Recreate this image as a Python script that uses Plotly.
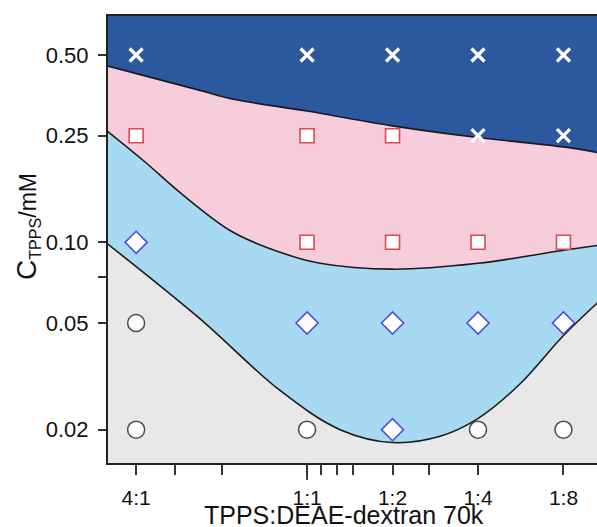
import plotly.graph_objects as go
import numpy as np

# ---------------- data ----------------
# DEAE-dextran : TPPS ratio (x) and their labels (TPPS:DEAE)
ratios = [0.25, 1, 2, 4, 8]
ratio_labels = ["4:1", "1:1", "1:2", "1:4", "1:8"]
# minor (unlabelled) x ticks
x_minor_ticks = [0.343, 0.5, 1.12, 1.275, 1.45, 2.69]

# TPPS concentration levels (mM)
conc_levels = [0.50, 0.25, 0.10, 0.05, 0.02]
conc_labels = ["0.50", "0.25", "0.10", "0.05", "0.02"]
y_minor_ticks = [0.074]

# observed phase at each (conc, ratio): X = aggregate A, S = aggregate B, D = aggregate C, C = monomer
phase_050 = ["X", "X", "X", "X", "X"]
phase_025 = ["S", "S", "S", "X", "X"]
phase_010 = ["D", "S", "S", "S", "S"]
phase_005 = ["C", "D", "D", "D", "D"]
phase_002 = ["C", "C", "D", "C", "C"]
phase_rows = [phase_050, phase_025, phase_010, phase_005, phase_002]

# phase boundaries (ratio, conc)
top_r = [0.197, 0.42, 0.55, 1.0, 2.0, 4.0, 8.0, 10.6]
top_c = [0.456, 0.369, 0.342, 0.309, 0.272, 0.246, 0.227, 0.216]

mid_r = [0.197, 0.265, 0.366, 0.549, 0.823, 1.11, 2.0, 4.0, 8.0, 10.6]
mid_c = [0.261, 0.202, 0.150, 0.109, 0.091, 0.0835, 0.0794, 0.0835, 0.0934, 0.0975]

bot_r = [0.197, 0.42, 0.803, 1.307, 2.0, 2.94, 3.97, 5.62, 7.97, 10.6]
bot_c = [0.0992, 0.0518, 0.0280, 0.0200, 0.0179, 0.0189, 0.0219, 0.0296, 0.0447, 0.0598]

# ---------------- style ----------------
C_DARK = "#2c58a0"
C_PINK = "#f7ccdb"
C_LBLUE = "#a7daf2"
C_GRAY = "#e8e8e8"
FONT = "Liberation Sans, Arial, Helvetica, sans-serif"

fig = go.Figure()

base_x = [0.05, 50]
base_y = [0.001, 0.001]


def add_region(rx, cy, color):
    fig.add_trace(go.Scatter(x=base_x, y=base_y, mode="lines",
                             line=dict(width=0), hoverinfo="skip", showlegend=False))
    fig.add_trace(go.Scatter(x=rx, y=cy, mode="lines", fill="tonexty", fillcolor=color,
                             line=dict(width=0, shape="spline"), hoverinfo="skip",
                             showlegend=False))


add_region(top_r, top_c, C_PINK)
add_region(mid_r, mid_c, C_LBLUE)
add_region(bot_r, bot_c, C_GRAY)

for rx, cy in [(top_r, top_c), (mid_r, mid_c), (bot_r, bot_c)]:
    fig.add_trace(go.Scatter(x=rx, y=cy, mode="lines",
                             line=dict(color="#1a1a1a", width=1.6, shape="spline"),
                             hoverinfo="skip", showlegend=False))

marker_styles = {
    "X": dict(symbol="x-thin", size=13, color="white", line=dict(color="white", width=3.2)),
    "S": dict(symbol="square", size=14, color="white", line=dict(color="#e0474e", width=1.6)),
    "D": dict(symbol="diamond", size=17, color="white", line=dict(color="#4a4fd6", width=1.6)),
    "C": dict(symbol="circle", size=17, color="white", line=dict(color="#4a4a4a", width=1.5)),
}

for ph, style in marker_styles.items():
    xs, ys = [], []
    for c, row in zip(conc_levels, phase_rows):
        for r, p in zip(ratios, row):
            if p == ph:
                xs.append(r)
                ys.append(c)
    fig.add_trace(go.Scatter(x=xs, y=ys, mode="markers", marker=style,
                             cliponaxis=False, showlegend=False))

x_tickvals = ratios + x_minor_ticks
x_ticktext = ratio_labels + [""] * len(x_minor_ticks)
y_tickvals = conc_levels + y_minor_ticks
y_ticktext = conc_labels + [""] * len(y_minor_ticks)

W, H = 597, 527
ML, MR, MT, MB = 108, 0, 16, 64
PW, PH = W - ML - MR, H - MT - MB

fig.update_layout(
    width=W, height=H,
    margin=dict(l=ML, r=MR, t=MT, b=MB, pad=0),
    paper_bgcolor="white",
    plot_bgcolor=C_DARK,
    font=dict(family=FONT, color="#111111"),
    showlegend=False,
    xaxis=dict(
        type="log", range=[np.log10(0.199), np.log10(10.5)],
        tickmode="array", tickvals=x_tickvals, ticktext=x_ticktext,
        ticks="outside", ticklen=10, tickwidth=1.8, tickcolor="#333333",
        showline=True, linecolor="#222222", linewidth=2, mirror=True,
        showgrid=False, zeroline=False,
        tickfont=dict(size=21, family=FONT), ticklabelstandoff=5,
    ),
    yaxis=dict(
        type="log", range=[-1.82342, -0.15551],
        tickmode="array", tickvals=y_tickvals, ticktext=y_ticktext,
        ticks="outside", ticklen=8, tickwidth=1.8, tickcolor="#333333",
        showline=True, linecolor="#222222", linewidth=2,
        showgrid=False, zeroline=False,
        tickfont=dict(size=22, family=FONT), ticklabelstandoff=5,
    ),
)

# longer tick at 1:1
fig.add_shape(type="line", xref="x", yref="paper", x0=1, x1=1, y0=0, y1=-17 / PH,
              line=dict(color="#333333", width=1.8))

fig.add_annotation(
    text="<span style='font-size:28px'>C</span><sub>TPPS</sub>/mM",
    xref="paper", yref="paper", x=(27 - ML) / PW, y=(H - MB - 227) / PH,
    xanchor="center", yanchor="middle", textangle=-90, showarrow=False,
    font=dict(size=23, family=FONT, color="#111111"),
)
fig.add_annotation(
    text="TPPS:DEAE-dextran 70k",
    xref="paper", yref="paper", x=(344 - ML) / PW, y=(H - MB - 515) / PH,
    xanchor="center", yanchor="middle", showarrow=False,
    font=dict(size=25, family=FONT, color="#111111"),
)

fig.write_html("out.html")
